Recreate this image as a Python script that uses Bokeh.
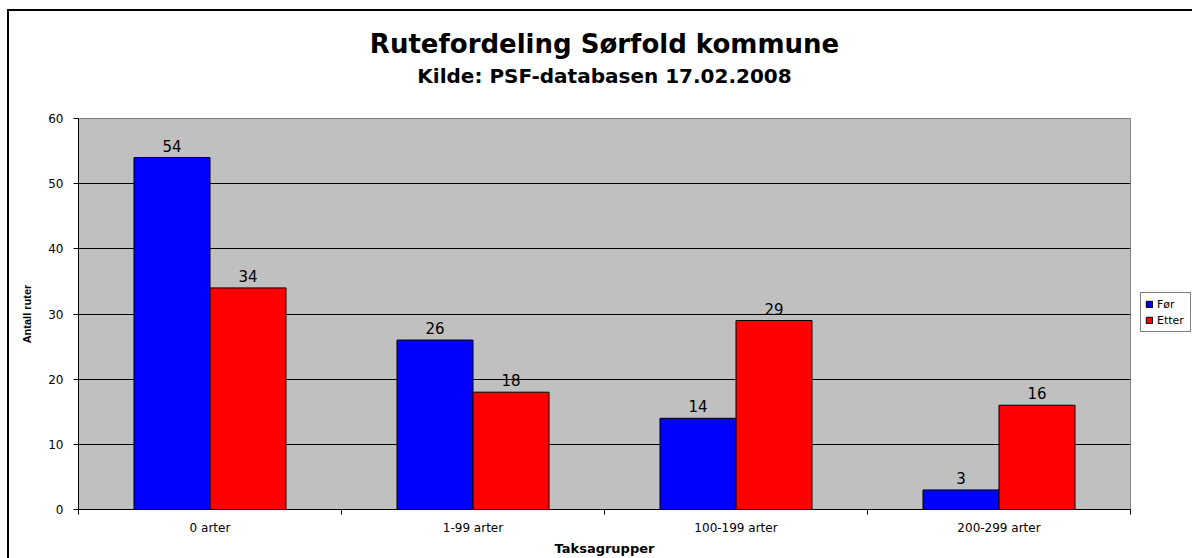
from bokeh.plotting import figure
from bokeh.models import (ColumnDataSource, Range1d, LinearAxis,
                          FixedTicker, Legend, LegendItem, Title, Grid)
from bokeh.transform import dodge
from bokeh.core.properties import value
from bokeh.embed import file_html
from bokeh.resources import INLINE

# ---- data ----
categories = ["0 arter", "1-99 arter", "100-199 arter", "200-299 arter"]
series_names = ["Før", "Etter"]
for_values = [54, 26, 14, 3]
etter_values = [34, 18, 29, 16]
y_ticks = [0, 10, 20, 30, 40, 50, 60]

title_text = "Rutefordeling Sørfold kommune"
subtitle_text = "Kilde: PSF-databasen 17.02.2008"
x_label = "Taksagrupper"
y_label = "Antall ruter"

FONT = "DejaVu Sans"
BAR_W = 0.289

centers = [i + 0.5 for i in range(len(categories))]
bounds = list(range(len(categories) + 1))

src = ColumnDataSource(dict(
    pos=centers,
    before=for_values,
    after=etter_values,
    before_lbl=[str(v) for v in for_values],
    after_lbl=[str(v) for v in etter_values],
))

p = figure(
    x_range=Range1d(0, len(categories)),
    y_range=Range1d(y_ticks[0], y_ticks[-1]),
    frame_width=1052, frame_height=391,
    output_backend="svg", toolbar_location=None,
    x_axis_location=None, y_axis_location=None,
    title=None,
    min_border_left=71, min_border_right=60, min_border_top=109, min_border_bottom=47,
    background_fill_color="#C0C0C0",
    border_fill_color=None,
    outline_line_color="#808080",
    styles={"margin-left": "7px", "margin-top": "9px",
            "box-shadow": "inset 2px 2px 0 0 black"},
)
p.grid.visible = False

# grid
p.add_layout(Grid(dimension=1, ticker=FixedTicker(ticks=y_ticks[1:-1]),
                  grid_line_color="black", grid_line_width=1))

# y axis
yax = LinearAxis(ticker=FixedTicker(ticks=y_ticks),
                 axis_label=y_label,
                 axis_label_text_font="Liberation Sans", axis_label_text_font_style="bold",
                 axis_label_text_font_size="11px", axis_label_standoff=12,
                 axis_label_text_color="black",
                 major_label_text_font=FONT, major_label_text_font_size="12px",
                 major_label_text_color="black",
                 major_label_standoff=10,
                 major_tick_out=5, major_tick_in=0, minor_tick_out=0, minor_tick_in=0,
                 axis_line_color="black", major_tick_line_color="black")
p.add_layout(yax, "left")

# x axis: labels at category centres, tick marks at category boundaries
xax = LinearAxis(ticker=FixedTicker(ticks=centers, minor_ticks=bounds),
                 major_label_overrides={c: cat for c, cat in zip(centers, categories)},
                 major_tick_out=0, major_tick_in=0,
                 minor_tick_out=5, minor_tick_in=0, minor_tick_line_color="black",
                 major_label_text_font=FONT, major_label_text_font_size="12px",
                 major_label_text_color="black",
                 major_label_standoff=6,
                 axis_label=x_label, axis_label_text_font=FONT,
                 axis_label_text_font_style="bold", axis_label_text_font_size="13px",
                 axis_label_text_color="black",
                 axis_label_standoff=3, axis_line_color="black")
p.add_layout(xax, "below")

# bars
r1 = p.vbar(x=dodge("pos", -BAR_W / 2), top="before", width=BAR_W,
            source=src, fill_color="#0000FF", line_color="black", line_width=1)
r2 = p.vbar(x=dodge("pos", BAR_W / 2), top="after", width=BAR_W,
            source=src, fill_color="#FF0000", line_color="black", line_width=1)

# value labels
for off, col, lbl in [(-BAR_W / 2, "before", "before_lbl"), (BAR_W / 2, "after", "after_lbl")]:
    p.text(x=dodge("pos", off), y=col, text=lbl, source=src,
           text_align="center", text_baseline="bottom", y_offset=-6,
           text_font=value(FONT), text_font_size="15px", text_color="black")

# legend
legend = Legend(items=[LegendItem(label=series_names[0], renderers=[r1]),
                       LegendItem(label=series_names[1], renderers=[r2])],
                location=(10, 177), margin=0,
                glyph_width=8, glyph_height=8, label_height=14, label_width=29,
                label_text_font=FONT, label_text_font_size="11px",
                label_text_color="black",
                padding=4, spacing=2, label_standoff=4,
                border_line_color="black", border_line_width=1,
                background_fill_color="white", background_fill_alpha=1)
p.add_layout(legend, "right")

# titles (a blank spacer keeps the subtitle clear of the plot area)
p.add_layout(Title(text=" ", text_font=FONT, text_font_size="10px", standoff=18), "above")
p.add_layout(Title(text=subtitle_text, align="center", text_font=FONT, text_color="black",
                   text_font_size="20px", text_font_style="bold", standoff=0), "above")
p.add_layout(Title(text=title_text, align="center", text_font=FONT, text_color="black",
                   text_font_size="26px", text_font_style="bold", standoff=6), "above")

open("out.html", "w").write(file_html(p, INLINE))
